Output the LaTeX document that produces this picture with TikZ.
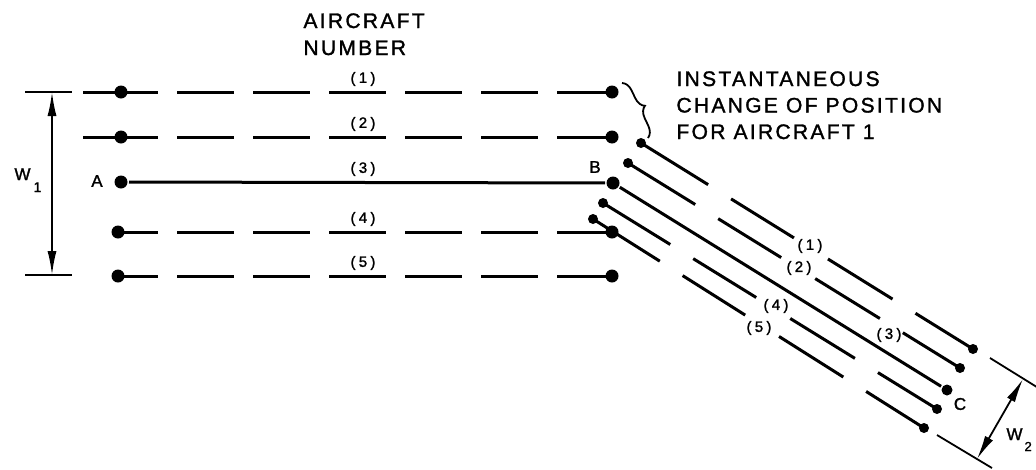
\documentclass[tikz,border=0pt]{standalone}
\usepackage{fontspec}
\setmainfont{Liberation Sans}[FakeBold=1.5]
\newfontfamily\spaced[LetterSpace=11, FakeBold=1.5]{Liberation Sans}
\newfontfamily\wide[LetterSpace=22, FakeBold=1.5]{Liberation Sans}
\usetikzlibrary{arrows.meta,decorations.pathreplacing}

\begin{document}
\begin{tikzpicture}[x=1pt, y=-1pt, line width=3pt]
    \tikzset{dot/.style={circle, fill, inner sep=0pt, minimum size=13pt},
             tip/.style={dot, minimum size=10pt},
             num/.style={font=\wide\fontsize{15}{15}\selectfont, inner sep=0pt},
             head/.style={font=\spaced\fontsize{21}{21}\selectfont, anchor=base west, inner sep=0pt},
             letter/.style={font=\fontsize{17}{17}\selectfont, inner sep=0pt},
             hdash/.style={dash pattern=on 75pt off 19pt on 57pt off 19pt on 57pt off 19pt on 57pt off 19pt on 57pt off 19pt on 57pt off 19pt on 57pt off 40pt},
             ddash/.style={dash pattern=on 79pt off 27pt on 74pt off 40pt on 76pt off 27pt on 80pt off 20pt},
             dimline/.style={line width=1.8pt},
             dimarrow/.style={dimline, {Latex[length=24pt,width=9pt]}-{Latex[length=24pt,width=9pt]}}}
    \useasboundingbox (0,0) rectangle (1036,469);
    % headings
    \node[head] (air) at (302,28) {AIRCRAFT};
    \node[head] (nmb) at (302,55) {NUMBER};
    \foreach \t [count=\i] in {INSTANTANEOUS, CHANGE OF POSITION, FOR AIRCRAFT 1}
      \node[head] (note\i) at (675,{59.5+26.5*\i}) {\t};
    \coordinate (br1) at (622,83);
    \coordinate (br2) at (648,138);
    \draw[dimline, decorate, decoration={brace, amplitude=11pt}] (br1) -- (br2);
    % tracks before the turn
    \node[dot] (A) at (121,182) {};
    \node[dot] (B) at (613,183) {};
    \draw (A) -- (B);
    \node[letter] (la) at (97,181) {A};
    \node[letter] (lb) at (595,167) {B};
    \foreach \i/\y/\xs/\xl/\ph in {1/92/83/121/0pt, 2/137/83/121/0pt, 4/232/118/118/35pt, 5/276/118/118/35pt} {
      \coordinate (s\i) at (\xs,\y);
      \node[dot] (l\i) at (\xl,\y) {};
      \node[dot] (r\i) at (612,\y) {};
      \draw[hdash, dash phase=\ph] (s\i) -- (r\i.center);
    }
    \foreach \i/\y in {1/79, 2/124, 3/169, 4/219, 5/263}
      \node[num] (n\i) at (363,\y) {(\i)};
    % tracks after the turn
    \node[dot, minimum size=11pt] (C) at (947,390) {};
    \draw (B) -- (C);
    \node[letter] (lc) at (960,404) {C};
    \foreach \i/\xa/\ya/\xb/\yb in {1/641/143/973/349, 2/628/163/960/368, 4/603/203/937/409, 5/593/219/924/428} {
      \node[tip] (t\i) at (\xa,\ya) {};
      \node[tip] (e\i) at (\xb,\yb) {};
      \draw[ddash] (t\i.center) -- (e\i.center);
    }
    \foreach \i/\x/\y in {1/810/246, 2/799/268, 3/889/335, 4/776/306, 5/759/328}
      \node[num] (m\i) at (\x,\y) {(\i)};
    % widths
    \coordinate (w1t) at (52,92);
    \coordinate (w1b) at (52,275);
    \draw[dimline] ([xshift=-27pt]w1t) -- ([xshift=20pt]w1t);
    \draw[dimline] ([xshift=-27pt]w1b) -- ([xshift=20pt]w1b);
    \draw[dimarrow] (w1t) -- (w1b);
    \node[letter, anchor=base west] (w1) at (13,180) {W\kern3pt\raisebox{-12pt}{\fontsize{14}{14}\selectfont 1}};
    \coordinate (x1) at (990,358);
    \coordinate (x2) at (1040,389);
    \coordinate (x3) at (937,435);
    \coordinate (x4) at (992,468);
    \draw[dimline] (x1) -- (x2);
    \draw[dimline] (x3) -- (x4);
    \coordinate (w2t) at (1023,379);
    \coordinate (w2b) at (977,459);
    \draw[dimarrow] (w2t) -- (w2b);
    \node[letter, anchor=base west] (w2) at (1005,440) {W\kern2pt\raisebox{-11pt}{\fontsize{13}{13}\selectfont 2}};
\end{tikzpicture}
\end{document}
